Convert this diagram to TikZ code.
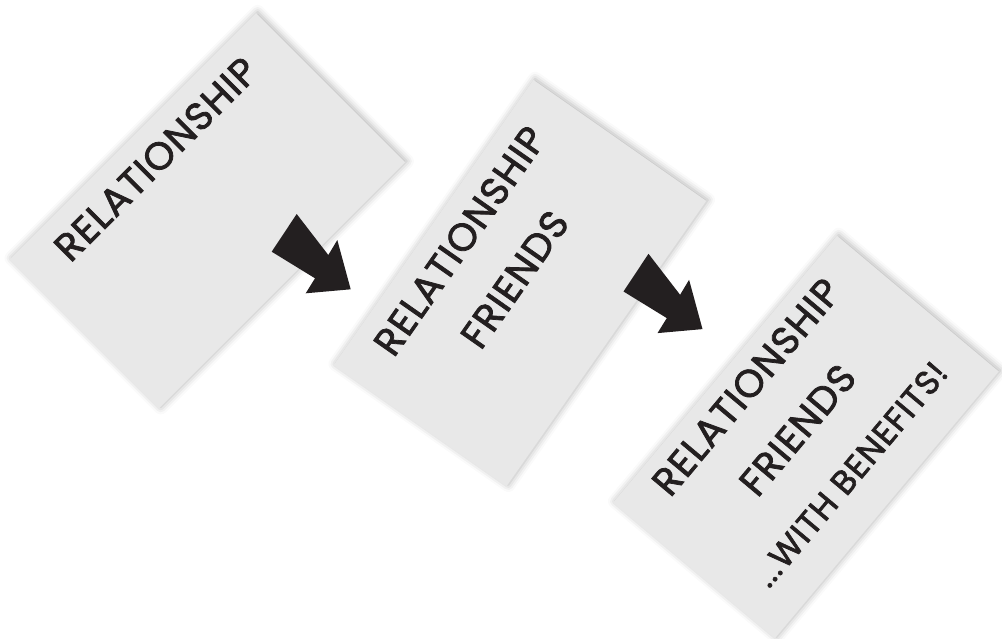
\documentclass[tikz,border=0pt]{standalone}
\usepackage{fontspec}
\newfontfamily\cardfont{Poppins}[LetterSpace=3, FakeBold=2]
\usetikzlibrary{calc,shadows.blur}

\definecolor{cardgray}{RGB}{232,232,232}
\definecolor{inkblack}{RGB}{35,31,32}

\begin{document}
\begin{tikzpicture}[x=0.025cm, y=-0.025cm]
        % Define styles
        \tikzstyle{card} = [rectangle, minimum width=8.7cm, minimum height=5.275cm, inner sep=0pt, fill=cardgray, blur shadow={shadow xshift=1.2pt, shadow yshift=0.8pt, shadow blur radius=5pt, shadow opacity=30}]
        \tikzstyle{cardtext} = [text=inkblack, font=\cardfont\fontsize{27.5}{47.7}\selectfont, align=center, inner sep=0pt]
        \tikzstyle{arrowfill} = [fill=inkblack]

        \useasboundingbox (0,0) rectangle (1002,639);

        % Cards
        \node (card1) [card, rotate=45] at (207.5,210.75) {};
        \node (card2) [card, rotate=55] at (520,283) {};
        \node (card3) [card, rotate=50] at (806,437) {};

        % Texts
        \node (text1) [cardtext, rotate=45] at ($(card1.center)!1.825cm!(card1.north)$) {RELATIONSHIP};
        \node (text2) [cardtext, rotate=55] at ($(card2.center)!1cm!(card2.north)$) {RELATIONSHIP\\FRIENDS};
        \node (text3) [cardtext, rotate=50] at ($(card3.center)!0.275cm!(card3.north)$) {RELATIONSHIP\\FRIENDS\\{\fontsize{24}{47.7}\selectfont ...WITH BENEFITS!}};

        % Arrows
        \fill [arrowfill, shift={(271.7,251.7)}] (0,0) -- (25,-37.7) -- (56.6,3.3) -- (65.6,-11.7) -- (79,37.6) -- (34,41.6) -- (43.3,26.6) -- cycle;
        \fill [arrowfill, shift={(623.5,291.5)}] (0,0) -- (25,-37.7) -- (56.6,3.3) -- (65.6,-11.7) -- (79,37.6) -- (34,41.6) -- (43.3,26.6) -- cycle;
    \end{tikzpicture}
\end{document}
